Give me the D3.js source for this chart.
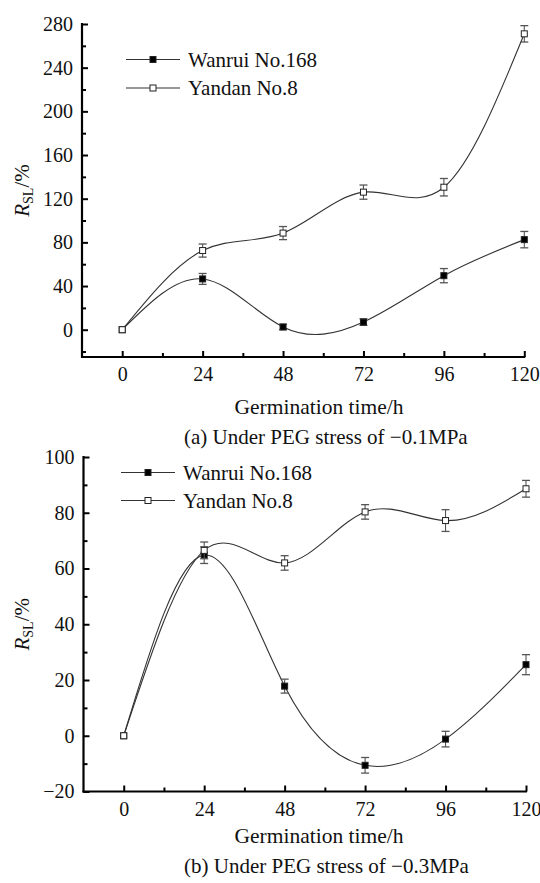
<!DOCTYPE html>
<html><head><meta charset="utf-8">
<script src="https://cdn.jsdelivr.net/npm/d3@7"></script>
<style>body{margin:0;background:#fff}svg{display:block}svg text{font-family:serif;fill:#111}</style>
</head><body>
<script>
const hours = [0, 24, 48, 72, 96, 120];
const seriesNames = ["Wanrui No.168", "Yandan No.8"];
// (a) -0.1 MPa
const aWanrui = [0, 46.5, 2.5, 7, 49.5, 82.5];
const aWanruiErr = [0, 5, 2.5, 3, 6.5, 7.5];
const aYandan = [0, 72.5, 88.5, 126, 130.5, 271];
const aYandanErr = [0, 6, 6, 6.5, 8, 7.5];
const aTicks = [0, 40, 80, 120, 160, 200, 240, 280];
// (b) -0.3 MPa
const bWanrui = [0, 64.8, 17.8, -10.6, -1.2, 25.5];
const bWanruiErr = [0, 3, 2.5, 2.8, 2.8, 3.6];
const bYandan = [0, 66.5, 62, 80.3, 77.2, 88.6];
const bYandanErr = [0, 3, 2.6, 2.6, 3.9, 3];
const bTicks = [-20, 0, 20, 40, 60, 80, 100];
const xTicks = [0, 24, 48, 72, 96, 120];

const FONT = "serif";
const svg = d3.select("body").append("svg").attr("width", 540).attr("height", 883)
  .attr("font-family", FONT);

function panel(cfg) {
  const x = d3.scaleLinear().domain([-12, 120]).range([cfg.x0, cfg.x1]);
  const y = d3.scaleLinear().domain(cfg.yDomain).range([cfg.yB, cfg.yT]);
  const g = svg.append("g");
  // y axis
  const yAx = d3.axisLeft(y).tickValues(cfg.yTicks).tickSize(-6).tickPadding(9)
    .tickFormat(d => d < 0 ? "\u2212" + Math.abs(d) : d);
  const ya = g.append("g").attr("transform", `translate(${cfg.x0},0)`).call(yAx).attr("font-family", FONT);
  ya.select(".domain").remove();
  ya.append("line").attr("x1", 0).attr("x2", 0).attr("y1", cfg.yB + 1).attr("y2", cfg.yT - 1).attr("stroke", "#000").attr("stroke-width", 2.2);
  ya.selectAll(".tick line").attr("stroke", "#000").attr("stroke-width", 2);
  ya.selectAll(".tick text").style("font-size", "20px").style("font-family", FONT).attr("fill", "#111");
  const yMinor = d3.axisLeft(y).tickValues(cfg.yMinor).tickSize(-4).tickFormat("");
  const ym = g.append("g").attr("transform", `translate(${cfg.x0},0)`).call(yMinor);
  ym.select(".domain").remove();
  ym.selectAll(".tick line").attr("stroke", "#000").attr("stroke-width", 2);
  // x axis
  const xAx = d3.axisBottom(x).tickValues(xTicks).tickSize(-6).tickPadding(10);
  const xa = g.append("g").attr("transform", `translate(0,${cfg.yB})`).call(xAx).attr("font-family", FONT);
  xa.select(".domain").remove();
  xa.append("line").attr("x1", cfg.x0 - 1).attr("x2", x(120) + 1).attr("y1", 0).attr("y2", 0).attr("stroke", "#000").attr("stroke-width", 2.2);
  xa.selectAll(".tick line").attr("stroke", "#000").attr("stroke-width", 2);
  xa.selectAll(".tick text").style("font-size", "20px").style("font-family", FONT).attr("fill", "#111");
  const xMinor = d3.axisBottom(x).tickValues([12, 36, 60, 84, 108]).tickSize(-4).tickFormat("");
  const xm = g.append("g").attr("transform", `translate(0,${cfg.yB})`).call(xMinor);
  xm.select(".domain").remove();
  xm.selectAll(".tick line").attr("stroke", "#000").attr("stroke-width", 2);

  // titles
  g.append("text").attr("x", 319).attr("y", cfg.titleY).attr("text-anchor", "middle").style("font-family", FONT).style("font-size", "21.5px").text("Germination time/h");
  g.append("text").attr("x", 184).attr("y", cfg.capY).attr("text-anchor", "start").style("font-family", FONT).style("font-size", "21px").text(cfg.caption);
  const yt = g.append("text").attr("transform", `translate(29,${(cfg.yT + cfg.yB) / 2}) rotate(-90)`).attr("text-anchor", "middle").style("font-family", FONT).style("font-size", "21px");
  yt.append("tspan").style("font-style", "italic").text("R");
  yt.append("tspan").attr("dy", 4).style("font-size", "14px").text("SL");
  yt.append("tspan").attr("dy", -4).text("/%");

  const line = d3.line().x((d, i) => x(hours[i])).y(d => y(d)).curve(d3.curveNatural);
  const series = [
    { v: cfg.w, e: cfg.we, fill: "#000" },
    { v: cfg.yd, e: cfg.ye, fill: "#fff" }
  ];
  series.forEach(s => {
    g.append("path").attr("d", line(s.v)).attr("fill", "none").attr("stroke", "#333").attr("stroke-width", 1.1);
  });
  series.forEach(s => {
    s.v.forEach((v, i) => {
      if (s.e[i] > 0) {
        const cx = x(hours[i]);
        g.append("line").attr("x1", cx).attr("x2", cx).attr("y1", y(v - s.e[i])).attr("y2", y(v + s.e[i])).attr("stroke", "#555").attr("stroke-width", 1.1);
        [v - s.e[i], v + s.e[i]].forEach(t => g.append("line").attr("x1", cx - 4).attr("x2", cx + 4).attr("y1", y(t)).attr("y2", y(t)).attr("stroke", "#555").attr("stroke-width", 1.3));
      }
    });
    s.v.forEach((v, i) => {
      g.append("rect").attr("x", x(hours[i]) - 3).attr("y", y(v) - 3).attr("width", 6).attr("height", 6)
        .attr("fill", s.fill).attr("stroke", "#222").attr("stroke-width", 1);
    });
  });
  // legend
  series.forEach((s, k) => {
    const ly = cfg.legY[k];
    g.append("line").attr("x1", cfg.legX[0]).attr("x2", cfg.legX[1]).attr("y1", ly).attr("y2", ly).attr("stroke", "#333").attr("stroke-width", 1.1);
    const mx = (cfg.legX[0] + cfg.legX[1]) / 2;
    g.append("rect").attr("x", mx - 3).attr("y", ly - 3).attr("width", 6).attr("height", 6).attr("fill", s.fill).attr("stroke", "#222").attr("stroke-width", 1);
    g.append("text").attr("x", cfg.legX[1] + 8).attr("y", ly + 7).style("font-family", FONT).style("font-size", "21px").text(seriesNames[k]);
  });
}

panel({
  x0: 82, x1: 524.3, yT: 24, yB: 357, yDomain: [-25, 280],
  yTicks: aTicks, yMinor: [-20, 20, 60, 100, 140, 180, 220, 260],
  w: aWanrui, we: aWanruiErr, yd: aYandan, ye: aYandanErr,
  titleY: 414, capY: 444, caption: "(a) Under PEG stress of \u22120.1MPa",
  legX: [126, 180], legY: [59.5, 88]
});
panel({
  x0: 83.5, x1: 526, yT: 457, yB: 791.5, yDomain: [-20, 100],
  yTicks: bTicks, yMinor: [-10, 10, 30, 50, 70, 90],
  w: bWanrui, we: bWanruiErr, yd: bYandan, ye: bYandanErr,
  titleY: 843, capY: 873, caption: "(b) Under PEG stress of \u22120.3MPa",
  legX: [121, 175], legY: [472.5, 500.5]
});
</script>
</body></html>
